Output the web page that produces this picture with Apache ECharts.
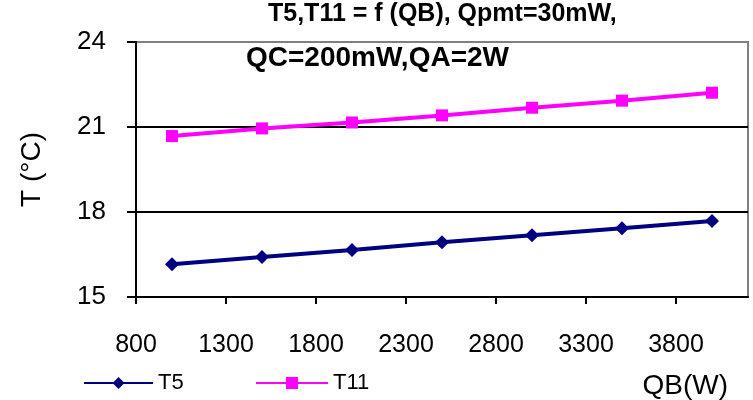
<!DOCTYPE html>
<html>
<head>
<meta charset="utf-8">
<style>
  html, body { margin: 0; padding: 0; background: #fff; }
  #chart { width: 753px; height: 400px; }
</style>
<script src="https://cdn.jsdelivr.net/npm/echarts@6/dist/echarts.min.js"></script>
</head>
<body>
<div id="chart"></div>
<script>
// Heat load QB (W) on the horizontal axis
const qb = [1000, 1500, 2000, 2500, 3000, 3500, 4000];
// Temperatures (°C)
const t5 = [16.16, 16.41, 16.66, 16.93, 17.18, 17.43, 17.68];
const t11 = [20.68, 20.95, 21.16, 21.41, 21.68, 21.93, 22.21];

const titleLines = ['T5,T11 = f (QB), Qpmt=30mW,', 'QC=200mW,QA=2W'];
const FONT = '"Liberation Sans", Arial, sans-serif';

const chart = echarts.init(document.getElementById('chart'));
chart.setOption({
  animation: false,
  backgroundColor: '#ffffff',
  title: [
    { text: titleLines[0], left: 268, top: 2, padding: 0,
      textStyle: { fontFamily: FONT, fontSize: 25, fontWeight: 'bold', color: '#000', lineHeight: 25 } },
    { text: titleLines[1], left: 246, top: 44, padding: 0,
      textStyle: { fontFamily: FONT, fontSize: 28, fontWeight: 'bold', color: '#000', lineHeight: 28 } }
  ],
  grid: {
    left: 136, right: 5, top: 42, bottom: 103,
    show: true, borderColor: '#808080', borderWidth: 2, backgroundColor: 'transparent'
  },
  legend: [
    { data: ['T5'], left: 83, top: 372, itemWidth: 69, itemHeight: 15, itemGap: 0, padding: 0,
      textStyle: { fontFamily: FONT, fontSize: 22, color: '#000' } },
    { data: ['T11'], left: 255, top: 372, itemWidth: 72, itemHeight: 15, itemGap: 0, padding: 0,
      textStyle: { fontFamily: FONT, fontSize: 22, color: '#000' } }
  ],
  xAxis: {
    type: 'value',
    min: 800, max: 4200, interval: 500,
    name: 'QB(W)',
    nameLocation: 'end',
    nameGap: 0,
    nameTextStyle: { fontFamily: FONT, fontSize: 28, color: '#000',
      align: 'right', verticalAlign: 'top', padding: [75, 20, 0, 0] },
    axisLine: { show: true, lineStyle: { color: '#000', width: 2 } },
    axisTick: { show: true, inside: false, length: 7, lineStyle: { color: '#000', width: 2 } },
    axisLabel: {
      margin: 36, fontFamily: FONT, fontSize: 25, color: '#000',
      showMaxLabel: false,
      formatter: v => String(v)
    },
    splitLine: { show: false }
  },
  yAxis: {
    type: 'value',
    min: 15, max: 24, interval: 3,
    name: 'T (°C)',
    nameLocation: 'middle',
    nameGap: 90,
    nameRotate: 90,
    nameTextStyle: { fontFamily: FONT, fontSize: 28, color: '#000' },
    axisLine: { show: true, lineStyle: { color: '#000', width: 2 } },
    axisTick: { show: true, inside: false, length: 9, lineStyle: { color: '#000', width: 2 } },
    axisLabel: { margin: 30, fontFamily: FONT, fontSize: 26, color: '#000' },
    splitLine: { show: true, showMinLine: false, showMaxLine: false,
      lineStyle: { color: '#000', width: 2 } }
  },
  series: [
    {
      name: 'T5', type: 'line',
      data: qb.map((x, i) => [x, t5[i]]),
      symbol: 'diamond', symbolSize: 14,
      lineStyle: { color: '#000080', width: 4 },
      itemStyle: { color: '#000080', borderWidth: 0 }
    },
    {
      name: 'T11', type: 'line',
      data: qb.map((x, i) => [x, t11[i]]),
      symbol: 'rect', symbolSize: 12,
      lineStyle: { color: '#ff00ff', width: 4 },
      itemStyle: { color: '#ff00ff', borderWidth: 0 }
    }
  ]
});
</script>
</body>
</html>
